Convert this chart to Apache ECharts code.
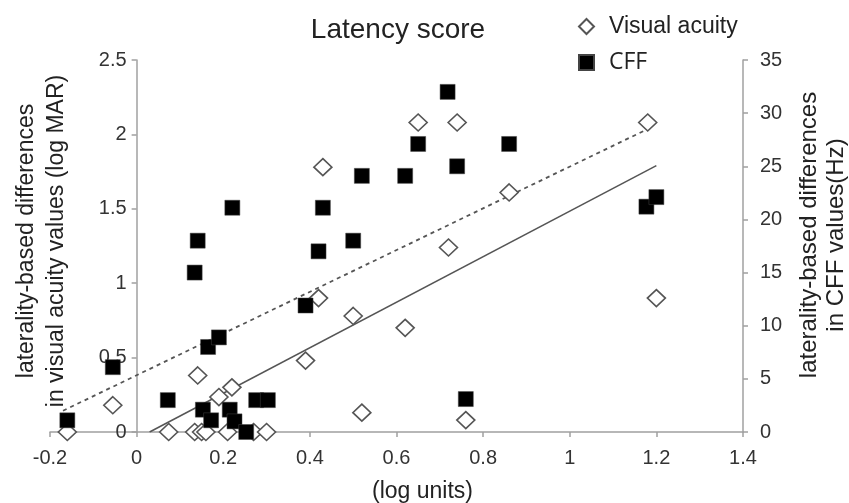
<!DOCTYPE html>
<html>
<head>
<meta charset="utf-8">
<script src="https://cdn.jsdelivr.net/npm/echarts@6/dist/echarts.min.js"></script>
<style>
  html, body { margin: 0; padding: 0; background: #fff; }
  #chart { width: 849px; height: 503px; }
</style>
</head>
<body>
<div id="chart"></div>
<script>
// visual acuity (log MAR), left axis
const vaX = [-0.16, -0.055, 0.074, 0.134, 0.15, 0.16, 0.21, 0.27, 0.30, 0.141, 0.19, 0.22,
  0.39, 0.42, 0.43, 0.50, 0.52, 0.62, 0.65, 0.72, 0.74, 0.76, 0.86, 1.18, 1.2];
const vaY = [0, 0.18, 0, 0, 0, 0, 0, 0, 0, 0.38, 0.235, 0.30,
  0.48, 0.90, 1.78, 0.78, 0.13, 0.70, 2.08, 1.24, 2.08, 0.08, 1.61, 2.08, 0.90];

// CFF (Hz), right axis
const cffX = [-0.16, -0.055, 0.072, 0.134, 0.141, 0.153, 0.165, 0.172, 0.19, 0.215, 0.221, 0.226,
  0.253, 0.276, 0.303, 0.39, 0.42, 0.43, 0.50, 0.52, 0.62, 0.65, 0.718, 0.74, 0.76, 0.86, 1.177, 1.2];
const cffY = [1.1, 6.1, 3.0, 15.0, 18.0, 2.1, 8.0, 1.1, 8.9, 2.1, 21.1, 1.0,
  0, 3.0, 3.0, 11.9, 17.0, 21.1, 18.0, 24.1, 24.1, 27.1, 32.0, 25.0, 3.1, 27.1, 21.2, 22.1];

// trend lines (end points)
const vaFitX = [0.03, 1.2];
const vaFitY = [0, 1.79];
const cffFitX = [-0.17, 1.19];
const cffFitY = [2.0, 28.7];

const xTicks = [-0.2, 0, 0.2, 0.4, 0.6, 0.8, 1, 1.2, 1.4];

function pairs(xs, ys) {
  return xs.map((x, i) => [x, ys[i]]);
}

const font = 'Liberation Sans, Arial, sans-serif';
const axisGrey = '#a0a0a0';

const gridLeft = 50, gridRight = 106;
const plotWidth = 849 - gridLeft - gridRight;
// left value axis sits where x = 0
const yAxisShift = plotWidth * (0 - xTicks[0]) / (xTicks[xTicks.length - 1] - xTicks[0]);

const chart = echarts.init(document.getElementById('chart'));

const option = {
  backgroundColor: '#fff',
  animation: false,
  title: {
    text: 'Latency score',
    left: 393,
    top: 11,
    textAlign: 'center',
    textStyle: { fontFamily: font, fontSize: 28, fontWeight: 'normal', color: '#222' }
  },
  legend: {
    orient: 'vertical',
    left: 573,
    top: 10,
    itemWidth: 15,
    itemHeight: 15,
    itemGap: 13,
    textStyle: { fontFamily: font, fontSize: 23, color: '#222', padding: [0, 0, 0, 10] },
    data: [
      { name: 'Visual acuity' },
      { name: 'CFF', textStyle: { fontFamily: 'Open Sans', fontSize: 23 } }
    ]
  },
  grid: { left: gridLeft, right: gridRight, top: 60, bottom: 71, containLabel: false, outerBoundsMode: 'none' },
  xAxis: {
    type: 'value',
    min: -0.2,
    max: 1.4,
    interval: 0.2,
    name: '(log units)',
    nameLocation: 'middle',
    nameGap: 48,
    nameTextStyle: { fontFamily: font, fontSize: 23, color: '#222', padding: [0, 0, 0, 52] },
    axisLine: { lineStyle: { color: axisGrey, width: 1.5 } },
    axisTick: { show: true, length: 5, lineStyle: { color: axisGrey, width: 1.5 } },
    axisLabel: {
      margin: 16, fontFamily: font, fontSize: 20, color: '#333',
      formatter: v => {
        const t = xTicks.find(k => Math.abs(k - v) < 1e-6);
        return t === undefined ? '' : String(t);
      }
    },
    splitLine: { show: false }
  },
  yAxis: [
    {
      type: 'value',
      min: 0,
      max: 2.5,
      interval: 0.5,
      offset: -yAxisShift,
      name: 'laterality-based differences\nin visual acuity values (log MAR)',
      nameLocation: 'middle',
      nameGap: 65,
      nameTextStyle: { fontFamily: font, fontSize: 23, color: '#222', lineHeight: 30, padding: [0, 0, 0, 10] },
      axisLine: { show: true, onZero: false, lineStyle: { color: axisGrey, width: 1.5 } },
      axisTick: { show: true, length: 5, lineStyle: { color: axisGrey, width: 1.5 } },
      axisLabel: { margin: 10, fontFamily: font, fontSize: 20, color: '#333' },
      splitLine: { show: false }
    },
    {
      type: 'value',
      position: 'right',
      min: 0,
      max: 35,
      interval: 5,
      name: 'laterality-based differences\nin CFF values(Hz)',
      nameLocation: 'middle',
      nameGap: 53,
      nameTextStyle: { fontFamily: font, fontSize: 24, color: '#222', lineHeight: 27, padding: [0, 0, 0, 22] },
      axisLine: { show: true, onZero: false, lineStyle: { color: axisGrey, width: 1.5 } },
      axisTick: { show: true, length: 5, lineStyle: { color: axisGrey, width: 1.5 } },
      axisLabel: { margin: 17, fontFamily: font, fontSize: 20, color: '#333' },
      splitLine: { show: false }
    }
  ],
  series: [
    {
      name: 'VA fit',
      type: 'line',
      yAxisIndex: 0,
      data: pairs(vaFitX, vaFitY),
      symbol: 'none',
      lineStyle: { color: '#555', width: 1.5 },
      z: 1
    },
    {
      name: 'CFF fit',
      type: 'line',
      yAxisIndex: 1,
      data: pairs(cffFitX, cffFitY),
      symbol: 'none',
      lineStyle: { color: '#555', width: 1.8, type: [4, 4] },
      z: 1
    },
    {
      name: 'Visual acuity',
      type: 'scatter',
      yAxisIndex: 0,
      data: pairs(vaX, vaY),
      symbol: 'diamond',
      symbolSize: [18, 17],
      itemStyle: { color: '#fff', borderColor: '#555', borderWidth: 1.6, opacity: 1 },
      z: 3
    },
    {
      name: 'CFF',
      type: 'scatter',
      yAxisIndex: 1,
      data: pairs(cffX, cffY),
      symbol: 'rect',
      symbolSize: 15,
      itemStyle: { color: '#000', borderColor: '#444', borderWidth: 0.5, opacity: 1 },
      z: 4
    }
  ]
};

chart.setOption(option);
</script>
</body>
</html>
